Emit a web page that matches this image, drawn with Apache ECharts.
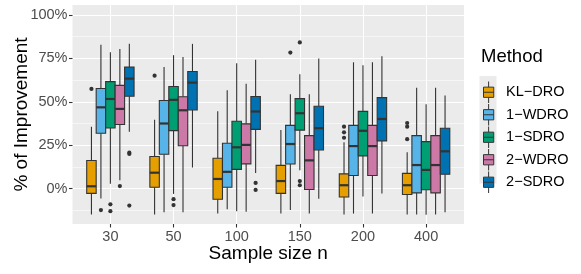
<!DOCTYPE html>
<html>
<head>
<meta charset="utf-8">
<script src="https://cdn.jsdelivr.net/npm/echarts@6/dist/echarts.min.js"></script>
<style>
html,body{margin:0;padding:0;background:#fff;}
#c{width:581px;height:274px;}
</style>
</head>
<body>
<div id="c"></div>
<script>
// ---- data ----
const categories = ['30', '50', '100', '150', '200', '400'];
const methods = ['KL\u2212DRO', '1\u2212WDRO', '1\u2212SDRO', '2\u2212WDRO', '2\u2212SDRO'];
const yTicks = [0, 25, 50, 75, 100];
const yMinorTicks = [-12.5, 12.5, 37.5, 62.5, 87.5];

// [lower whisker, Q1, median, Q3, upper whisker] per sample size
const klDro = [
  [-14.8, -2.7, 1.4, 16.2, 35.7],
  [-14.8, 0.8, 9.2, 18.5, 39.6],
  [-14.2, -6.1, 5.6, 17.5, 44.5],
  [-14.2, -2.7, 4.4, 13.4, 33.8],
  [-14.8, -4.8, 2.0, 8.5, 26.7],
  [-14.8, -3.3, 2.0, 8.8, 20.9]
];
const wdro1 = [
  [-5.6, 31.9, 46.8, 57.6, 82.8],
  [-13.6, 19.8, 37.5, 50.7, 70.0],
  [-11.8, 0.8, 9.7, 26.1, 56.6],
  [-12.3, 14.2, 25.7, 36.4, 54.3],
  [-14.3, 7.6, 24.5, 36.4, 72.7],
  [-14.8, -2.4, 13.6, 30.5, 58.1]
];
const sdro1 = [
  [2.9, 34.9, 51.6, 61.6, 78.5],
  [-3.0, 33.4, 51.1, 58.8, 76.8],
  [-12.9, 11.1, 23.8, 38.8, 72.2],
  [10.6, 33.7, 43.4, 51.8, 65.8],
  [-4.5, 18.9, 33.3, 44.5, 71.0],
  [-15.0, -0.6, 10.8, 27.1, 48.6]
];
const wdro2 = [
  [4.8, 36.9, 45.9, 59.4, 80.3],
  [-13.5, 24.7, 45.1, 52.9, 75.8],
  [-13.3, 14.3, 25.2, 37.3, 60.3],
  [-14.2, -0.5, 16.3, 30.5, 54.3],
  [-14.3, 7.6, 24.5, 36.4, 72.7],
  [-14.8, -2.4, 13.6, 30.5, 58.1]
];
const sdro2 = [
  [32.8, 53.2, 63.3, 69.9, 83.3],
  [12.2, 45.3, 61.0, 67.4, 83.3],
  [9.1, 34.1, 44.4, 53.0, 74.1],
  [-5.8, 22.3, 34.8, 47.4, 74.9],
  [-2.7, 27.5, 40.1, 52.4, 76.2],
  [-13.6, 8.3, 21.5, 34.8, 53.6]
];

// outliers: [sample-size index, value]
const klDroOut = [[0, 57.4], [1, 65.0], [4, 35.7], [4, 32.4], [4, 29.3], [5, 37.8], [5, 35.7], [5, 28.5]];
const wdro1Out = [[0, -12.3], [3, 78.3]];
const sdro1Out = [[0, -9.0], [0, -12.9], [1, -6.0], [1, -9.4], [3, 84.1], [3, 4.4], [3, 2.0]];
const wdro2Out = [[0, 1.5]];
const sdro2Out = [[0, 20.7], [0, 20.0], [0, -9.7], [2, 3.3], [2, -0.7]];

// ---- styling ----
const colors = ['#E69F00', '#56B4E9', '#009E73', '#CC79A7', '#0072B2'];
const FONT = '"Liberation Sans", Arial, Helvetica, sans-serif';
const EDGE = '#333333';

const boxSets = [klDro, wdro1, sdro1, wdro2, sdro2];
const outSets = [klDroOut, wdro1Out, sdro1Out, wdro2Out, sdro2Out];
const NM = methods.length;

function boxRender(k) {
  return function (params, api) {
    const xi = api.value(0);
    const band = api.size([1, 0])[0];
    const w = band * 0.75 / NM;
    const cx = api.coord([xi, 0])[0] + (k - (NM - 1) / 2) * w;
    const y = [1, 2, 3, 4, 5].map(d => api.coord([xi, api.value(d)])[1]);
    const lw = { stroke: EDGE, lineWidth: 1.1 };
    return {
      type: 'group',
      children: [
        { type: 'line', shape: { x1: cx, y1: y[0], x2: cx, y2: y[1] }, style: lw },
        { type: 'line', shape: { x1: cx, y1: y[3], x2: cx, y2: y[4] }, style: lw },
        { type: 'rect', shape: { x: cx - w / 2, y: y[3], width: w, height: y[1] - y[3] },
          style: { fill: colors[k], stroke: EDGE, lineWidth: 1.1 } },
        { type: 'line', shape: { x1: cx - w / 2, y1: y[2], x2: cx + w / 2, y2: y[2] },
          style: { stroke: EDGE, lineWidth: 2.2 } }
      ]
    };
  };
}
function outRender(k) {
  return function (params, api) {
    const xi = api.value(0);
    const band = api.size([1, 0])[0];
    const w = band * 0.75 / NM;
    const p = api.coord([xi, api.value(1)]);
    return { type: 'circle', shape: { cx: p[0] + (k - (NM - 1) / 2) * w, cy: p[1], r: 2.1 },
             style: { fill: EDGE } };
  };
}

const series = [];
boxSets.forEach((set, k) => {
  series.push({
    type: 'custom', name: methods[k], coordinateSystem: 'cartesian2d',
    itemStyle: { color: colors[k] },
    encode: { x: 0, y: [1, 2, 3, 4, 5] },
    data: set.map((v, i) => [i].concat(v)),
    renderItem: boxRender(k), z: 3
  });
});
outSets.forEach((set, k) => {
  series.push({
    type: 'custom', name: 'outliers ' + methods[k], coordinateSystem: 'cartesian2d',
    encode: { x: 0, y: 1 },
    data: set, renderItem: outRender(k), z: 4
  });
});

const Y_MIN = -20.3, Y_MAX = 105.65;
const legendTop = 76, legendRow = 21.5;

const graphics = [{
  type: 'text', left: 481, top: 47, z: 10,
  style: { text: 'Method', fontSize: 18.5, fontFamily: FONT, fill: '#000' }
}];
methods.forEach((m, i) => {
  graphics.push({
    type: 'rect', left: 479.5, top: legendTop + i * legendRow, z: 0,
    shape: { width: 17, height: legendRow }, style: { fill: '#EBEBEB' }
  });
});

const option = {
  animation: false,
  backgroundColor: '#ffffff',
  textStyle: { fontFamily: FONT },
  grid: { left: 72.5, right: 117, top: 5, bottom: 50, show: true,
          backgroundColor: '#EBEBEB', borderWidth: 0, outerBoundsMode: 'none', containLabel: false },
  xAxis: {
    type: 'value', min: -0.6, max: 5.6, position: 'bottom',
    axisLine: { show: false, onZero: false },
    axisTick: { show: true, customValues: categories.map((c, i) => i), length: 3.5,
                lineStyle: { color: EDGE, width: 1.1 } },
    axisLabel: { customValues: categories.map((c, i) => i), formatter: v => categories[Math.round(v)],
                 color: '#4D4D4D', fontSize: 14.5, margin: 5, fontFamily: FONT },
    splitLine: { show: true, lineStyle: { color: '#FFFFFF', width: 1.1 } },
    name: 'Sample size n', nameLocation: 'middle', nameGap: 20, nameMoveOverlap: false,
    nameTextStyle: { fontSize: 19, color: '#000', fontFamily: FONT }
  },
  yAxis: [{
    type: 'value', min: Y_MIN, max: Y_MAX, position: 'left',
    axisLine: { show: false, onZero: false },
    axisTick: { show: true, customValues: yTicks, length: 3.5, lineStyle: { color: EDGE, width: 1.1 } },
    axisLabel: { customValues: yTicks, formatter: v => v + '%', color: '#4D4D4D',
                 fontSize: 14.5, margin: 5, fontFamily: FONT },
    splitLine: { show: true, lineStyle: { color: '#FFFFFF', width: 1.1 } },
    name: '% of Improvement', nameLocation: 'middle', nameRotate: 90, nameGap: 41, nameMoveOverlap: false,
    nameTextStyle: { fontSize: 19, color: '#000', fontFamily: FONT }
  }, {
    type: 'value', min: Y_MIN, max: Y_MAX, position: 'left',
    axisLine: { show: false, onZero: false },
    axisTick: { show: false, customValues: yMinorTicks },
    axisLabel: { show: false },
    splitLine: { show: true, lineStyle: { color: '#FFFFFF', width: 0.55 } }
  }],
  legend: {
    data: methods, orient: 'vertical', left: 478, top: legendTop,
    itemWidth: 21, itemHeight: legendRow, itemGap: 0,
    icon: 'path://M5,0L5,5.5M0,5.5L10,5.5L10,15.5L0,15.5ZM0,10.5L10,10.5M5,15.5L5,21',
    itemStyle: { borderColor: EDGE, borderWidth: 1 },
    textStyle: { fontSize: 14.5, color: '#000', fontFamily: FONT, padding: [0, 0, 0, 2] },
    selectedMode: false
  },
  graphic: graphics,
  series: series
};

const chart = echarts.init(document.getElementById('c'), null, { renderer: 'canvas' });
chart.setOption(option);
</script>
</body>
</html>
